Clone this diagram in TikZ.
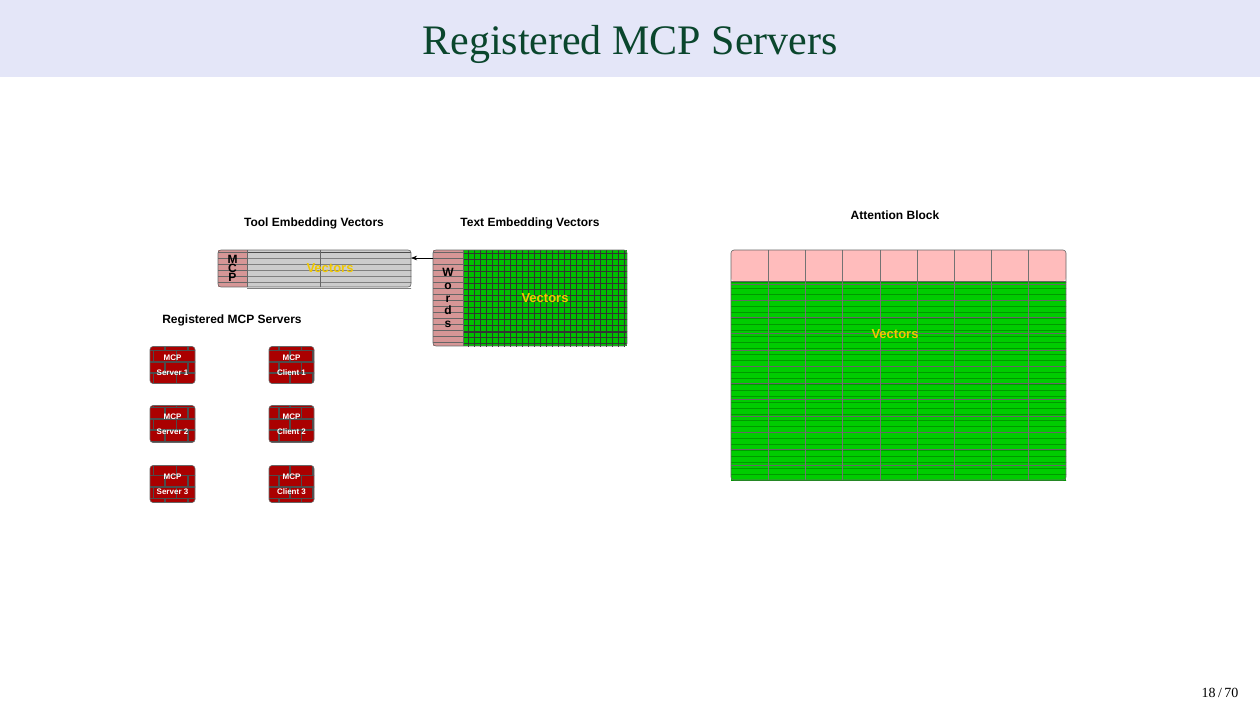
\documentclass[tikz,border=0pt]{standalone}
\usepackage{fontspec}
\setmainfont{Liberation Sans}
\newfontfamily\serifft{Liberation Serif}
\usetikzlibrary{patterns,arrows.meta}
\definecolor{band}{RGB}{228,230,248}
\definecolor{titleg}{RGB}{10,70,45}
\definecolor{pinkc}{RGB}{214,150,150}
\definecolor{lpink}{RGB}{255,188,188}
\definecolor{brick}{RGB}{170,0,0}
\definecolor{vecy}{RGB}{240,200,0}
\begin{document}
\begin{tikzpicture}[x=0.5pt,y=-0.5pt,
  lbl/.style={font=\fontsize{6}{7}\selectfont\bfseries},
  box/.style={draw=black!60,line width=0.3pt,rounded corners=1.5pt},
  srv/.style={box,preaction={fill=brick},pattern=bricks,pattern color=black!70,minimum width=22.5pt,minimum height=18.5pt,inner sep=0pt},
  srvt/.style={align=center,text=white,font=\fontsize{4}{7.5}\selectfont\bfseries},
  vec/.style={text=vecy,font=\fontsize{6.5}{7}\selectfont\bfseries}]
\useasboundingbox (0,0) rectangle (1260,709);
\fill[band] (0,0) rectangle (1260,77);
\node[text=titleg,font=\serifft\fontsize{21}{22}\selectfont] (title) at (630,44) {Registered MCP Servers};
\node[font=\serifft\fontsize{7}{8}\selectfont] (pg) at (1220,693) {18\,/\,70};
% tool embedding
\node[lbl] (tl) at (314,223) {Tool Embedding Vectors};
\fill[black!20] (247,250) rectangle (411,287);
\fill[pattern=horizontal lines,pattern color=black!70] (247,250) rectangle (411,287);
\fill[pattern=horizontal lines,pattern color=black!50,shift={(0,-1.5pt)}] (247,250) rectangle (411,287);
\fill[pinkc] (218,250) rectangle (247,287);
\fill[pattern=horizontal lines,pattern color=black!60] (218,250) rectangle (247,287);
\draw[black!60,line width=0.3pt] (247,250)--(247,287) (320,250)--(320,287);
\node[box,minimum width=96.5pt,minimum height=18.5pt,inner sep=0pt] (tool) at (314.5,268.5) {};
\node[font=\fontsize{6}{4.5}\selectfont\bfseries,align=center] (mcp) at (232.5,268.5) {M\\C\\P};
\node[vec] (tv) at (330,268) {Vectors};
% text embedding
\node[lbl] (xl) at (530,223) {Text Embedding Vectors};
\fill[green!75!black] (463,250) rectangle (627,346);
\fill[pattern=grid,pattern color=black!80] (463,250) rectangle (627,346);
\fill[pinkc] (433,250) rectangle (463,346);
\fill[pattern=horizontal lines,pattern color=black!60] (433,250) rectangle (463,346);
\draw[black!80,line width=0.5pt] (463,332)--(627,332);
\draw[black!60,line width=0.3pt] (463,250)--(463,346);
\node[box,minimum width=97pt,minimum height=48pt,inner sep=0pt] (text) at (530,298) {};
\node[font=\fontsize{6}{6.3}\selectfont\bfseries,align=center] (words) at (448,298) {W\\o\\r\\d\\s};
\node[vec] (xv) at (545,298) {Vectors};
\coordinate (a1) at (433,258);
\coordinate (a2) at (411,258);
\draw[-{Stealth[length=3pt]},line width=0.3pt] (a1)--(a2);
% servers
\node[lbl] (rl) at (232,320) {Registered MCP Servers};
\foreach \i/\y in {1/365,2/424,3/484}{
  \node[srv] (s\i) at (172.5,\y) {};
  \node[srvt] at (s\i) {MCP\\Server \i};
  \node[srv] (c\i) at (291.5,\y) {};
  \node[srvt] at (c\i) {MCP\\Client \i};
}
% attention
\node[lbl] (al) at (895,215) {Attention Block};
\fill[lpink,rounded corners=1.5pt] (731,250) rectangle (1066,281);
\begin{scope}
\clip (731,281) rectangle (1066,480);
\fill[green!80!black] (731,281) rectangle (1066,480);
\fill[pattern=horizontal lines,pattern color=green!60!black] (731,281) rectangle (1066,480);
\foreach \k in {0,...,12}{\draw[black!60,line width=0.4pt] (731,{284+\k*16.5})--(1066,{284+\k*16.5});}
\end{scope}
\foreach \k in {1,...,8}{\draw[black!55,line width=0.3pt] ({731+\k*37.2},250)--({731+\k*37.2},480);}
\node[box,minimum width=167.5pt,minimum height=115pt,inner sep=0pt] (att) at (898.5,365) {};
\draw[black!60,line width=0.3pt] (731,281)--(1066,281);
\node[vec] (av) at (895,334) {Vectors};
\end{tikzpicture}
\end{document}
